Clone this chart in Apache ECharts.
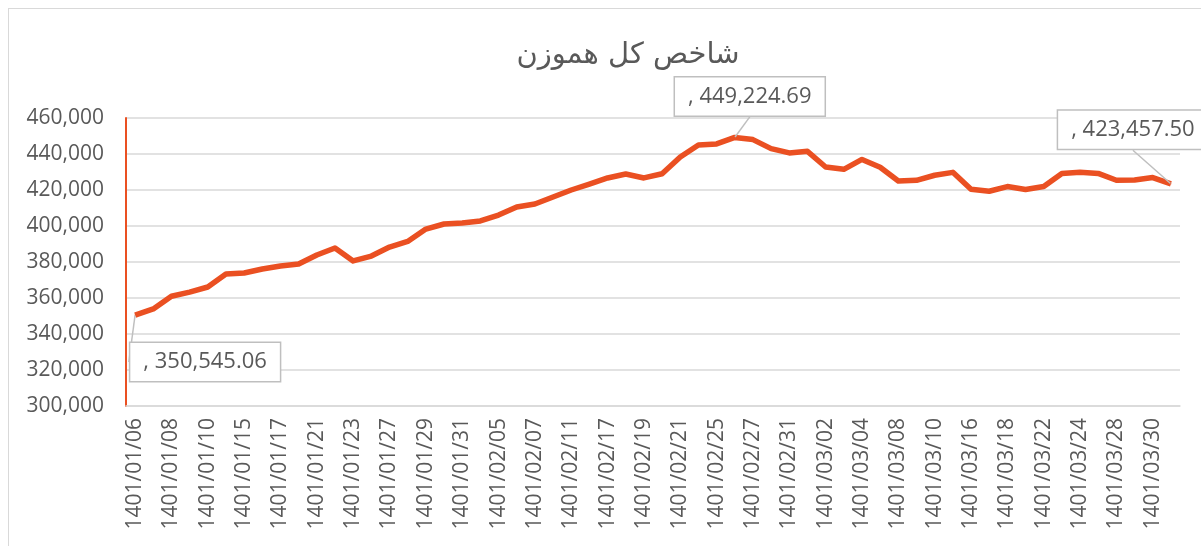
<!DOCTYPE html>
<html>
<head>
<meta charset="utf-8">
<script src="https://cdn.jsdelivr.net/npm/echarts@6/dist/echarts.min.js"></script>
<style>
  html, body { margin: 0; padding: 0; background: #fff; overflow: hidden; }
  .frame { position: absolute; left: 8px; top: 8px; width: 1300px; height: 700px; border: 1px solid #d9d9d9; }
  .line-box { position: absolute; left: 0; top: 0; width: 1201px; height: 546px; }
</style>
</head>
<body>
<div class="frame"></div>
<div id="chart" class="line-box"></div>
<script>
// trading days, spring 1401
const dates = [
  "1401/01/06", "1401/01/07", "1401/01/08", "1401/01/09", "1401/01/10", "1401/01/14",
  "1401/01/15", "1401/01/16", "1401/01/17", "1401/01/20", "1401/01/21", "1401/01/22",
  "1401/01/23", "1401/01/24", "1401/01/27", "1401/01/28", "1401/01/29", "1401/01/30",
  "1401/01/31", "1401/02/04", "1401/02/05", "1401/02/06", "1401/02/07", "1401/02/10",
  "1401/02/11", "1401/02/14", "1401/02/17", "1401/02/18", "1401/02/19", "1401/02/20",
  "1401/02/21", "1401/02/24", "1401/02/25", "1401/02/26", "1401/02/27", "1401/02/28",
  "1401/02/31", "1401/03/01", "1401/03/02", "1401/03/03", "1401/03/04", "1401/03/07",
  "1401/03/08", "1401/03/09", "1401/03/10", "1401/03/11", "1401/03/16", "1401/03/17",
  "1401/03/18", "1401/03/21", "1401/03/22", "1401/03/23", "1401/03/24", "1401/03/25",
  "1401/03/28", "1401/03/29", "1401/03/30", "1401/03/31"
]
const indexValues = [
  350545.06, 353900, 361000, 363300, 366100, 373300,
  373900, 376100, 377800, 378900, 383900, 387800,
  380600, 383300, 388300, 391400, 398300, 401100,
  401700, 402800, 406100, 410600, 412200, 416100,
  420000, 423300, 426700, 428900, 426700, 429000,
  438300, 445000, 445600, 449224.69, 448000, 443000,
  440600, 441500, 432800, 431500, 437000, 432600,
  425000, 425400, 428200, 429800, 420400, 419300,
  421900, 420300, 421900, 429200, 429900, 429200,
  425400, 425600, 426900, 423457.50
]
const yMin = 300000
const yMax = 460000
const yStep = 20000

const lineColor = "#EA5022"
const textColor = "#595959"
const gridColor = "#d9d9d9"

const maxIdx = indexValues.indexOf(Math.max(...indexValues))
const lastIdx = indexValues.length - 1
const labeled = [0, maxIdx, lastIdx]
// label box offsets from the point (callouts)
const calloutShift = {}
calloutShift[0] = [70, 47]
calloutShift[maxIdx] = [15, -41]
calloutShift[lastIdx] = [-38, -54]

const seriesData = indexValues.map((v, i) =>
  labeled.includes(i) ? { value: v, label: { show: true } } : v
)

const chart = echarts.init(document.getElementById("chart"))
const option = {
  animation: false,
  title: {
    text: "شاخص کل هموزن",
    left: 623,
    textAlign: "center",
    top: 36,
    textStyle: {
      fontSize: 29,
      fontWeight: "normal",
      color: textColor,
      fontFamily: "DejaVu Sans",
    },
  },
  grid: {
    top: 118,
    left: 126,
    right: 21,
    bottom: 140,
  },
  xAxis: {
    type: "category",
    data: dates,
    boundaryGap: true,
    axisLine: { lineStyle: { color: gridColor, width: 1.5 } },
    axisTick: { show: false },
    axisLabel: {
      interval: 1,
      rotate: 90,
      margin: 12,
      fontSize: 21,
      color: textColor,
      fontFamily: "Open Sans",
    },
  },
  yAxis: {
    type: "value",
    min: yMin,
    max: yMax,
    interval: yStep,
    axisLine: { show: true, lineStyle: { color: lineColor, width: 2 } },
    axisTick: { show: false },
    axisLabel: {
      margin: 22,
      fontSize: 21,
      color: textColor,
      fontFamily: "Open Sans",
      formatter: (v) => v.toLocaleString("en-US"),
    },
    splitLine: { lineStyle: { color: gridColor, width: 1.5 } },
  },
  series: [
    {
      type: "line",
      data: seriesData,
      symbol: "circle",
      symbolSize: 1,
      showSymbol: true,
      itemStyle: { color: lineColor },
      lineStyle: { color: lineColor, width: 5.5, join: "round" },
      label: {
        show: false,
        position: "inside",
        formatter: (p) => ", " + p.value.toLocaleString("en-US", { minimumFractionDigits: 2, maximumFractionDigits: 2 }),
        backgroundColor: "#fff",
        borderColor: "#bfbfbf",
        borderWidth: 1.5,
        padding: [8, 13],
        color: textColor,
        fontSize: 22,
        fontFamily: "Open Sans",
      },
      labelLine: {
        show: true,
        lineStyle: { color: "#bfbfbf", width: 1.5 },
      },
      labelLayout: (params) => {
        const s = calloutShift[params.dataIndex]
        if (!s) return {}
        return { dx: s[0], dy: s[1] }
      },
    },
  ],
}
chart.setOption(option)
</script>
</body>
</html>
